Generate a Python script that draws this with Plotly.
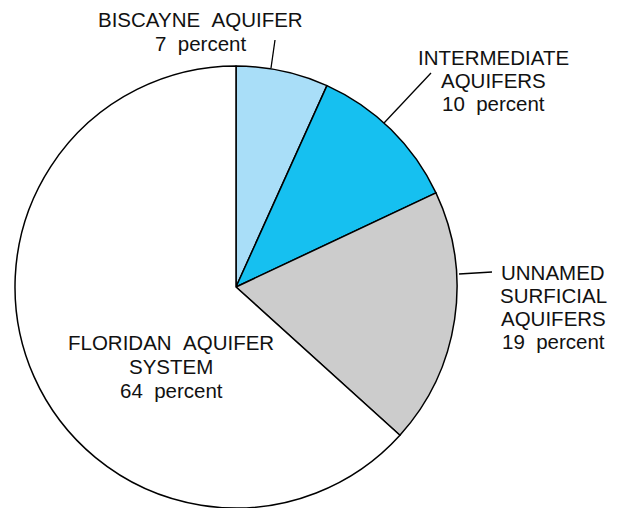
import plotly.graph_objects as go

W, H = 623, 508

categories = ["BISCAYNE AQUIFER", "INTERMEDIATE AQUIFERS", "UNNAMED SURFICIAL AQUIFERS", "FLORIDAN AQUIFER SYSTEM"]
# slice sizes as drawn (labels show rounded percents)
values = [6.75, 11.25, 18.7, 63.3]
label_percents = [7, 10, 19, 64]
label_lines = [
    ["BISCAYNE&nbsp;&nbsp;AQUIFER"],
    ["INTERMEDIATE", "AQUIFERS"],
    ["UNNAMED", "SURFICIAL", "AQUIFERS"],
    ["FLORIDAN&nbsp;&nbsp;AQUIFER", "SYSTEM"],
]
colors = ["#a9def8", "#16c0f0", "#cccccc", "#ffffff"]

# label line centres (pixels): x, then y of each line
label_x = [200, 493, 553, 171]
label_y = [[19, 44], [57, 81, 104], [272, 295, 318, 341], [342, 366, 390]]
# leader lines (pixels)
leaders = [((271, 68), (275, 40)), ((384, 123), (431, 73)), ((459, 274), (492, 272))]


def px(x):
    return x / W


def py(y):
    return 1 - y / H


fig = go.Figure(go.Pie(
    labels=categories,
    values=values,
    sort=False,
    direction="clockwise",
    rotation=0,
    marker=dict(colors=colors, line=dict(color="#000000", width=1.5)),
    textinfo="none",
    hoverinfo="label+percent",
    showlegend=False,
    domain=dict(x=[px(236 - 221), px(236 + 221)], y=[0, 442 / H]),
))

annotations = []
for lines, pct, cx, ys in zip(label_lines, label_percents, label_x, label_y):
    all_lines = lines + [f"{pct}&nbsp;&nbsp;percent"]
    for text, cy in zip(all_lines, ys):
        annotations.append(dict(
            x=px(cx), y=py(cy), xref="paper", yref="paper",
            text=text, showarrow=False, xanchor="center", yanchor="middle",
            align="center",
            font=dict(family="Liberation Sans, Arial, sans-serif", size=20.5, color="#111111"),
        ))

shapes = []
for (x0, y0), (x1, y1) in leaders:
    shapes.append(dict(type="line", xref="paper", yref="paper",
                       x0=px(x0), y0=py(y0), x1=px(x1), y1=py(y1),
                       line=dict(color="#000000", width=1.3)))

fig.update_layout(
    width=W, height=H,
    margin=dict(l=0, r=0, t=0, b=0),
    paper_bgcolor="#ffffff",
    plot_bgcolor="#ffffff",
    annotations=annotations,
    shapes=shapes,
)

fig.write_html("out.html", config={"displayModeBar": False},
               post_script="document.body.style.margin='0';document.body.style.overflow='hidden';")
